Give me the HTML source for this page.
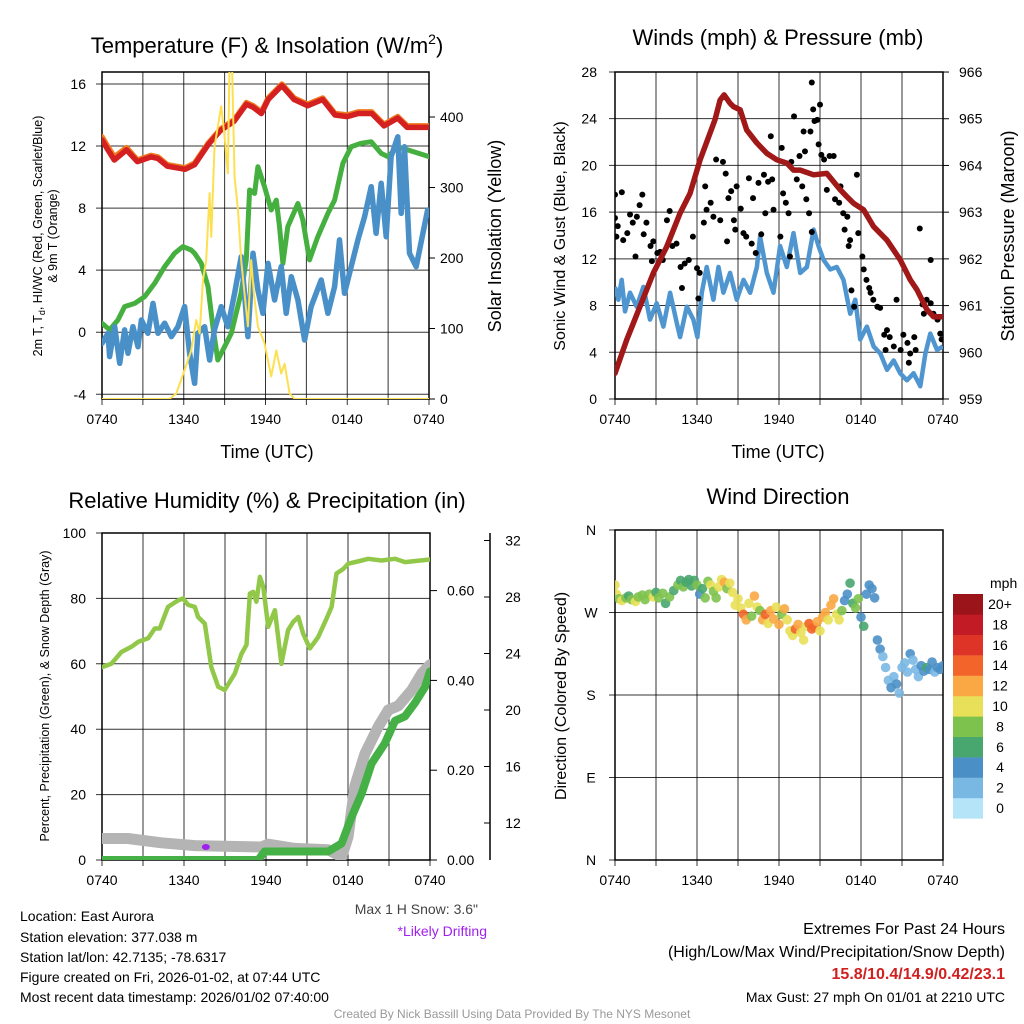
<!DOCTYPE html>
<html><head><meta charset="utf-8">
<style>
html,body{margin:0;padding:0;background:#fff;}
svg{display:block;font-family:"Liberation Sans",sans-serif;}
</style></head>
<body>
<svg id="c" width="1024" height="1024" viewBox="0 0 1024 1024">
<defs>
<clipPath id="cp1"><rect x="102" y="72" width="327" height="327"/></clipPath>
<clipPath id="cp2"><rect x="615" y="72" width="328" height="327"/></clipPath>
<clipPath id="cp3"><rect x="102" y="533" width="328" height="327"/></clipPath>
<clipPath id="cp4"><rect x="615" y="530" width="328" height="330"/></clipPath>
</defs>
<g id="g"></g>
<g font-size="14" fill="#000">
<text x="267" y="53" font-size="22" text-anchor="middle">Temperature (F) &amp; Insolation (W/m<tspan dy="-9" font-size="14">2</tspan><tspan dy="9">)</tspan></text>
<text x="778" y="45" font-size="22" text-anchor="middle">Winds (mph) &amp; Pressure (mb)</text>
<text x="267" y="508" font-size="22" text-anchor="middle">Relative Humidity (%) &amp; Precipitation (in)</text>
<text x="778" y="504" font-size="22" text-anchor="middle">Wind Direction</text>
<text x="267" y="458" font-size="18" text-anchor="middle">Time (UTC)</text>
<text x="778" y="458" font-size="18" text-anchor="middle">Time (UTC)</text>
<text transform="translate(42,236) rotate(-90)" font-size="12.5" text-anchor="middle">2m T, T<tspan dy="3" font-size="9">d</tspan><tspan dy="-3">, HI/WC (Red, Green, Scarlet/Blue)</tspan></text>
<text transform="translate(57,236) rotate(-90)" font-size="12.5" text-anchor="middle">&amp; 9m T (Orange)</text>
<text transform="translate(501,236) rotate(-90)" font-size="18" text-anchor="middle">Solar Insolation (Yellow)</text>
<text transform="translate(565,236) rotate(-90)" font-size="16" text-anchor="middle">Sonic Wind &amp; Gust (Blue, Black)</text>
<text transform="translate(1014,236) rotate(-90)" font-size="18" text-anchor="middle">Station Pressure (Maroon)</text>
<text transform="translate(49,696) rotate(-90)" font-size="12.5" text-anchor="middle">Percent, Precipitation (Green), &amp; Snow Depth (Gray)</text>
<text transform="translate(566,696) rotate(-90)" font-size="16" text-anchor="middle">Direction (Colored By Speed)</text>
<text x="990" y="588" font-size="14">mph</text>
<text x="478" y="914" font-size="14" text-anchor="end" fill="#444">Max 1 H Snow: 3.6"</text>
<text x="487" y="936" font-size="14" text-anchor="end" fill="#a020f0">*Likely Drifting</text>
<g font-size="14">
<text x="20" y="921">Location: East Aurora</text>
<text x="20" y="942">Station elevation: 377.038 m</text>
<text x="20" y="962">Station lat/lon: 42.7135; -78.6317</text>
<text x="20" y="982">Figure created on Fri, 2026-01-02, at 07:44 UTC</text>
<text x="20" y="1002">Most recent data timestamp: 2026/01/02 07:40:00</text>
</g>
<g text-anchor="end">
<text x="1005" y="934" font-size="16">Extremes For Past 24 Hours</text>
<text x="1005" y="957" font-size="16">(High/Low/Max Wind/Precipitation/Snow Depth)</text>
<text x="1005" y="979" font-size="16" font-weight="bold" fill="#d02020">15.8/10.4/14.9/0.42/23.1</text>
<text x="1005" y="1002" font-size="14">Max Gust: 27 mph On 01/01 at 2210 UTC</text>
</g>
<text x="512" y="1018" font-size="12" text-anchor="middle" fill="#999">Created By Nick Bassill Using Data Provided By The NYS Mesonet</text>
</g>
</svg>
<script>
// ---- data (hours since 0740 UTC) ----
const xTickHours=[0,6,12,18,24];
const xTickLabels=["0740","1340","1940","0140","0740"];
const tempTicks=[-4,0,4,8,12,16];
const solarTicks=[0,100,200,300,400];
const windTicks=[0,4,8,12,16,20,24,28];
const presTicks=[959,960,961,962,963,964,965,966];
const rhTicks=[0,20,40,60,80,100];
const precipTicks=[0,0.2,0.4,0.6];
const precipLabels=["0.00","0.20","0.40","0.60"];
const snowTicks=[12,16,20,24,28,32];
const dirTicks=[0,90,180,270,360];
const dirLabels=["N","E","S","W","N"];
const spdLabels=["0","2","4","6","8","10","12","14","16","18","20+"];
const spdColors=["#b5e3f8","#7ab8e4","#4a90c6","#48a66f","#7ec24e","#e8e058","#f9a843","#f26429","#de3427","#c21b26","#9b141a"];

const tH=[0,0.4,0.9,1.8,2.6,3.6,4.1,4.8,6.1,6.8,7.8,8.7,9.7,10.6,11.1,11.7,12.2,13.2,14.1,15.1,16.2,17.1,18.0,18.8,19.8,20.7,21.7,22.4,24];
const tV=[12.4,11.8,11.1,11.75,11.0,11.3,11.2,10.7,10.5,10.8,12.1,13.0,13.6,14.7,14.5,14.1,15.0,15.9,15.0,14.6,15.0,14.0,13.9,14.1,14.1,13.3,13.8,13.2,13.2];
const t9H=[0,0.4,0.9,1.8,2.6,3.6,4.1,4.8,6.1,6.8,7.8,8.7,9.7,10.6,11.1,11.7,12.2,13.2,14.1,15.1,16.2,17.1,18.0,18.8,19.8,20.7,21.7,22.4,24];
const t9V=[12.6,12.0,11.3,11.9,11.1,11.4,11.3,10.8,10.6,10.9,12.2,13.1,13.7,14.8,14.6,14.2,15.1,16.0,15.1,14.7,15.1,14.1,14.0,14.2,14.2,13.4,13.9,13.3,13.3];
const tdH=[0,0.56,1.17,1.66,2.4,3.13,3.86,4.6,5.33,5.94,6.55,6.8,7.29,7.78,8.14,8.5,9.0,9.49,10.2,10.59,10.83,11.2,11.44,11.93,12.42,12.79,13.03,13.28,13.64,14.38,14.74,15.23,15.84,16.58,17.07,17.68,18.29,19.02,19.76,20.49,20.98,21.71,22.44,24];
const tdV=[0.58,0.15,0.79,1.65,1.86,2.29,3.15,4.23,5.09,5.52,5.3,5.09,4.44,2.94,0.36,-1.79,-0.93,-0.07,2.51,4.66,9.17,8.95,10.67,9.38,7.88,8.52,6.81,4.44,6.81,8.3,7.24,4.66,6.16,7.66,8.52,10.89,11.96,12.18,12.28,11.53,11.32,11.96,11.75,11.32];
const wcH=[0,0.44,0.56,0.93,1.3,1.66,1.91,2.27,2.64,2.89,3.37,3.74,4.11,4.6,5.09,5.57,6.06,6.43,6.8,7.04,7.53,7.9,8.26,8.75,9.24,9.73,10.22,10.46,10.71,11.08,11.44,11.81,12.18,12.67,13.15,13.52,13.89,14.38,14.87,15.35,16.09,16.58,17.07,17.43,17.8,18.29,18.78,19.27,19.76,20.12,20.49,20.86,21.22,21.71,21.96,22.2,22.57,23.06,23.55,23.9];
const wcV=[-0.71,-0.07,-1.57,0.36,-2.0,0.15,-1.36,0.36,-0.93,0.79,-0.07,1.86,-0.07,0.58,-0.28,0.36,1.65,-1.36,-3.29,-0.07,0.36,-1.79,0.15,1.65,0.36,2.51,4.87,2.51,-0.28,5.09,2.72,1.22,4.44,2.08,4.23,1.22,3.58,2.08,-0.5,1.65,3.37,1.22,2.94,5.95,2.51,4.23,5.95,7.45,9.38,6.38,9.6,6.16,11.32,12.6,7.66,11.96,5.09,4.23,6.38,7.88];
const solH=[0,4.96,5.45,6.06,6.55,6.92,7.16,7.41,7.65,7.9,8.02,8.26,8.75,9.0,9.24,9.36,9.54,9.73,9.98,10.22,10.46,10.71,10.95,11.15,11.44,11.93,12.42,12.79,13.15,13.4,13.77,14.13,24];
const solV=[0,0,8,41,69,112,93,169,197,292,230,358,415,372,320,475,475,315,268,197,150,103,197,150,103,79,32,69,36,50,8,0,0];

const presH=[0,0.85,1.83,2.81,3.78,4.76,5.49,6.23,6.71,7.32,7.69,7.98,8.42,8.67,9.16,9.64,10.38,11.11,11.84,12.57,13.06,13.55,14.53,15.5,16.48,16.97,17.46,18.19,18.92,19.9,20.87,21.61,22.09,22.83,23.32,24];
const presV=[959.55,960.26,960.98,961.7,962.26,962.98,963.4,964.12,964.5,964.98,965.4,965.51,965.33,965.26,965.19,964.76,964.48,964.26,964.12,964.05,963.9,963.9,963.8,963.83,963.48,963.33,963.19,963.05,962.69,962.4,961.98,961.55,961.34,960.91,960.76,960.76];
const sonH=[0,0.24,0.49,0.73,1.1,1.59,2.08,2.56,3.05,3.54,4.03,4.52,4.76,5.25,5.74,6.03,6.35,6.71,7.2,7.57,7.93,8.42,8.91,9.4,9.89,10.38,10.62,11.11,11.6,12.08,12.57,13.06,13.55,14.04,14.53,14.89,15.26,15.75,16.23,16.72,17.21,17.58,17.94,18.43,18.92,19.41,19.9,20.39,20.87,21.36,21.85,22.34,22.71,23.07,23.56,24];
const sonV=[9.6,8.5,10.2,7.5,9.1,7.9,9.6,6.8,8.2,6.2,9.1,6.5,5.3,7.9,6.8,5.3,9.1,11.3,8.5,11.3,9.1,10.8,8.5,10.2,9.1,11.3,13.9,10.8,9.1,13.1,11.3,14.2,10.8,11.3,14.5,13.1,11.9,11.1,11.3,10.2,7.3,8.5,5.1,6.2,4.5,3.9,2.5,3.3,2.2,1.6,2.2,1.1,3.9,5.6,4.2,4.5];
const gustH=[0.0,0.5,0.0,0.1,0.2,0.6,0.9,1.1,1.3,1.5,1.6,1.8,2.0,2.1,2.3,2.6,2.7,2.8,3.1,3.3,3.5,3.8,4.0,4.2,4.5,4.8,4.9,5.1,5.4,5.7,6.0,6.1,6.2,6.5,6.6,6.7,7.0,7.2,7.4,7.7,7.9,8.1,8.2,8.3,8.5,8.7,8.8,8.9,9.2,9.4,9.6,9.8,10.0,10.1,10.3,10.5,10.7,10.9,11.0,11.2,11.4,11.5,11.6,12.1,12.2,12.3,12.5,12.7,12.8,12.9,13.1,13.3,13.5,13.7,13.8,13.9,14.0,14.2,14.3,14.4,14.5,14.6,14.8,14.9,15.0,14.4,15.1,15.3,15.5,15.7,16.0,16.1,16.4,16.5,16.7,16.8,17.0,17.1,17.2,17.3,17.5,17.7,17.8,18.1,18.2,18.4,18.6,18.7,18.9,19.2,19.4,19.7,19.8,19.9,20.1,20.4,20.6,20.9,21.1,21.4,21.5,21.6,21.9,22.0,22.3,22.5,22.6,22.8,23.1,23.1,23.3,23.6,23.8,23.9];
const gustV=[17.5,17.7,15.5,13.9,14.8,13.6,14.2,15.8,15.1,12.2,15.6,16.6,17.5,14.1,15.1,13.1,11.8,13.5,12.5,12.6,11.9,15.3,16.1,13.1,13.3,11.3,9.5,11.6,11.9,13.9,11.2,8.6,10.8,15.1,18.2,16.2,16.8,15.6,20.5,15.3,20.3,19.3,13.5,17.2,17.8,15.3,14.5,18.2,16.3,14.2,13.9,18.9,13.3,17.2,12.5,18.5,14.1,19.2,15.9,18.6,22.5,18.8,16.2,13.9,21.5,17.6,16.8,15.9,12.2,20.3,24.2,18.8,20.8,18.2,22.9,21.2,17.1,15.9,22.9,14.3,24.8,23.8,23.9,21.8,25.2,27.1,20.9,20.5,17.9,20.8,20.8,17.1,16.8,18.2,15.9,14.5,15.6,13.1,13.6,9.3,7.9,19.2,14.2,12.2,11.1,10.2,9.5,9.1,8.5,7.9,7.8,5.5,4.2,5.9,5.3,4.5,8.5,4.2,5.5,4.8,3.1,3.9,5.3,4.2,14.6,8.1,7.3,8.5,11.9,8.2,7.3,6.8,5.6,5.1];

const rhH=[0,0.68,1.42,2.15,2.64,3.37,3.86,4.22,4.83,5.57,5.93,6.3,6.79,7.03,7.52,8.0,8.5,8.98,9.72,10.2,10.57,10.82,11.06,11.3,11.55,11.8,12.16,12.65,13.13,13.62,13.99,14.36,14.72,15.21,15.82,16.43,16.8,17.16,17.65,18.02,19.0,19.48,20.46,21.44,22.17,24];
const rhV=[59,60,63.6,65.2,66.7,67.8,70.8,70.8,77.4,79.4,80,78,77.4,74.3,72.3,59,53,52,57,63,65.8,81.5,82,79,86.6,83.5,71.3,76.4,60,70.3,72.8,74.3,69.2,64.7,68.2,73.8,77.4,87.6,89,90.6,91.6,92.1,91.6,92.1,91.1,91.9];
const pcpH=[0,11.43,11.9,16.55,17.53,18.26,19.0,19.73,20.7,21.44,22.17,22.9,23.63,24];
const pcpV=[0,0,0.019,0.019,0.037,0.096,0.148,0.215,0.26,0.31,0.32,0.35,0.385,0.42];
const snowH=[0,1.9,4.35,6.8,11.67,12.16,14.1,16.55,17.53,18.0,18.5,19.24,20.2,20.95,21.68,22.66,23.4,24];
const snowV=[10.9,10.9,10.6,10.4,10.3,10.5,10.2,10.1,9.6,11.0,14.6,16.9,18.8,20.0,20.3,21.4,22.6,23.2];
const driftH=[7.6];
const driftV=[10.3];

const dirH=[0.0,0.1,0.3,0.5,0.8,1.0,1.2,1.5,1.7,2.0,2.2,2.5,2.8,3.0,3.2,3.5,3.7,4.0,4.3,4.6,4.8,5.0,5.2,5.4,5.6,5.8,6.0,6.2,6.4,6.6,6.8,7.0,7.2,7.4,7.6,7.8,8.0,8.2,8.4,8.6,8.8,9.0,9.2,9.4,9.6,9.8,10.0,10.2,10.4,10.6,10.8,11.0,11.2,11.4,11.6,11.8,12.0,12.2,12.4,12.6,12.8,13.0,13.2,13.4,13.6,13.8,14.0,14.2,14.4,14.6,14.8,15.0,15.2,15.4,15.6,15.8,16.0,16.2,16.4,16.6,16.8,17.0,17.2,17.4,17.6,17.8,18.0,18.2,18.4,18.6,18.8,19.0,19.2,19.4,19.6,19.8,20.0,20.2,20.4,20.6,20.8,21.0,21.2,21.4,21.6,21.8,22.0,22.2,22.4,22.6,22.8,23.0,23.2,23.4,23.6,23.8,24.0];
const dirV=[300,290,285,283,286,288,284,282,287,289,284,290,287,292,286,291,280,287,294,300,305,298,303,306,299,305,300,290,296,286,304,300,293,286,298,306,303,296,302,292,278,285,275,268,262,280,266,288,276,272,262,268,258,272,263,276,257,268,274,262,250,245,252,257,248,240,255,258,252,254,260,250,265,270,262,278,285,268,262,272,283,290,302,280,275,285,265,255,290,300,296,286,240,230,222,210,196,188,200,192,182,210,215,205,225,218,208,200,212,206,210,208,216,205,210,208,212];
const dirSpd=[10,10,8,10,8,6,8,10,8,8,8,8,10,6,8,8,6,8,6,8,6,8,6,6,6,6,8,4,6,8,8,10,8,8,10,10,12,8,10,10,10,10,10,14,12,10,8,12,10,8,12,14,10,12,12,10,12,8,12,10,10,10,14,12,10,10,10,14,14,14,12,10,12,12,10,12,12,10,10,8,4,4,6,6,8,8,4,6,4,4,4,4,4,4,2,2,2,4,2,4,2,2,2,2,4,2,2,2,4,4,6,4,4,2,4,4,4];

// ---- helpers ----
const NS="http://www.w3.org/2000/svg";
const G=document.getElementById('g');
function mk(tag,attrs,name,parent){
  const el=document.createElementNS(NS,tag);
  for(const k in attrs) el.setAttribute(k,attrs[k]);
  
  
  (parent||G).appendChild(el);
  return el;
}
function txt(x,y,s,anchor,name,size){
  const t=mk('text',{x:x,y:y,'text-anchor':anchor||'middle','font-size':size||14},name);
  t.textContent=s;return t;
}
function path(hs,vs,fx,fy){
  let d='';
  for(let i=0;i<hs.length;i++){d+=(i?'L':'M')+fx(hs[i]).toFixed(1)+','+fy(vs[i]).toFixed(1);}
  return d;
}
function panelFrame(x0,x1,y0,y1,fx,name,gridYs){
  for(let h=0;h<=24;h+=3){
    const x=fx(h);
    mk('line',{x1:x,x2:x,y1:y0,y2:y1+6,stroke:'#000','stroke-width':1,'stroke-opacity':0.8},name+'-vgrid');
  }
  gridYs.forEach(y=>{
    mk('line',{x1:x0-6,x2:x1,y1:y,y2:y,stroke:'#000','stroke-width':1,'stroke-opacity':0.8},name+'-hgrid');
  });
  mk('rect',{x:x0,y:y0,width:x1-x0,height:y1-y0,fill:'none',stroke:'#000','stroke-width':1.5},name+'-frame');
  xTickHours.forEach((h,i)=>{txt(fx(h),y1+25,xTickLabels[i],'middle',name+'-x-tick-label');});
}

// ---- panel 1: temperature ----
const p1x=h=>102+h*(327/24);
const p1y=v=>394.3-(v+4)*15.515;
const p1s=v=>399-v*0.705;
panelFrame(102,429,72,399,p1x,'temp',tempTicks.map(p1y));
tempTicks.forEach(v=>txt(86,p1y(v)+5,String(v),'end','temp-y-tick-label'));
solarTicks.forEach(v=>{
  mk('line',{x1:429,x2:435,y1:p1s(v),y2:p1s(v),stroke:'#000'},'solar-tick');
  txt(440,p1s(v)+5,String(v),'start','solar-y-tick-label');
});
const c1=mk('g',{'clip-path':'url(#cp1)'},'temp-series');
mk('path',{d:path(t9H,t9V,p1x,p1y),fill:'none',stroke:'#f07a20','stroke-width':5.5,'stroke-linejoin':'round','stroke-linecap':'round'},'line-9m-temp',c1);
mk('path',{d:path(tH,tV,p1x,p1y),fill:'none',stroke:'#d42020','stroke-width':5.5,'stroke-linejoin':'round','stroke-linecap':'round'},'line-2m-temp',c1);
mk('path',{d:path(tdH,tdV,p1x,p1y),fill:'none',stroke:'#45b040','stroke-width':5,'stroke-linejoin':'round','stroke-linecap':'round'},'line-dewpoint',c1);
mk('path',{d:path(wcH,wcV,p1x,p1y),fill:'none',stroke:'#4a90c8','stroke-width':5.5,'stroke-linejoin':'round','stroke-linecap':'round'},'line-wind-chill',c1);
mk('path',{d:path(solH,solV,p1x,p1s),fill:'none',stroke:'#fde050','stroke-width':2,'stroke-linejoin':'round'},'line-insolation',c1);

// ---- panel 2: winds ----
const p2x=h=>615+h*(328/24);
const p2y=v=>399-v*11.68;
const p2p=p=>399-(p-959)*46.71;
panelFrame(615,943,72,399,p2x,'winds',windTicks.map(p2y));
windTicks.forEach(v=>txt(597,p2y(v)+5,String(v),'end','wind-y-tick-label'));
presTicks.forEach(v=>{
  mk('line',{x1:943,x2:949,y1:p2p(v),y2:p2p(v),stroke:'#000'},'pressure-tick');
  txt(959,p2p(v)+5,String(v),'start','pressure-y-tick-label');
});
const c2=mk('g',{'clip-path':'url(#cp2)'},'wind-series');
mk('path',{d:path(sonH,sonV,p2x,p2y),fill:'none',stroke:'#4f96d0','stroke-width':4.5,'stroke-linejoin':'round'},'line-sonic-wind',c2);
for(let i=0;i<gustH.length;i++){
  mk('circle',{cx:p2x(gustH[i]),cy:p2y(gustV[i]),r:3,fill:'#000'},'gust-point',c2);
}
mk('path',{d:path(presH,presV,p2x,p2p),fill:'none',stroke:'#a01818','stroke-width':5.5,'stroke-linejoin':'round','stroke-linecap':'round'},'line-pressure',c2);

// ---- panel 3: RH & precip ----
const p3x=h=>102+h*(328/24);
const p3y=v=>860-v*3.27;
const p3p=v=>860-v*449;
const p3s=v=>823-(v-12)*14.125;
panelFrame(102,430,533,860,p3x,'rh',rhTicks.map(p3y));
rhTicks.forEach(v=>txt(86,p3y(v)+5,String(v),'end','rh-y-tick-label'));
precipTicks.forEach((v,i)=>{
  mk('line',{x1:430,x2:437,y1:p3p(v),y2:p3p(v),stroke:'#000'},'precip-tick');
  txt(447,p3p(v)+5,precipLabels[i],'start','precip-y-tick-label');
});
mk('line',{x1:490,x2:490,y1:533,y2:860,stroke:'#000','stroke-width':1.5},'snow-axis-line');
snowTicks.forEach(v=>{
  mk('line',{x1:484,x2:490,y1:p3s(v),y2:p3s(v),stroke:'#000'},'snow-tick');
  txt(513,p3s(v)+5,String(v),'middle','snow-y-tick-label');
});
const c3=mk('g',{'clip-path':'url(#cp3)'},'rh-series');
mk('path',{d:path(snowH,snowV,p3x,p3s),fill:'none',stroke:'#b4b4b4','stroke-width':11,'stroke-linejoin':'round','stroke-linecap':'round'},'line-snow-depth',c3);
mk('path',{d:path(pcpH,pcpV,p3x,p3p),fill:'none',stroke:'#45b045','stroke-width':8,'stroke-linejoin':'round','stroke-linecap':'round'},'line-precip',c3);
mk('path',{d:path(rhH,rhV,p3x,p3y),fill:'none',stroke:'#92c84a','stroke-width':4.5,'stroke-linejoin':'round','stroke-linecap':'round'},'line-rh',c3);
for(let i=0;i<driftH.length;i++){
  mk('ellipse',{cx:p3x(driftH[i]),cy:p3s(driftV[i]),rx:4,ry:3,fill:'#a020f0'},'drift-marker',c3);
}

// ---- panel 4: wind direction ----
const p4x=h=>615+h*(328/24);
const p4y=d=>860-d*(330/360);
panelFrame(615,943,530,860,p4x,'dir',dirTicks.map(p4y));
dirTicks.forEach((v,i)=>txt(591,p4y(v)+5,dirLabels[i],'middle','dir-y-tick-label'));
const c4=mk('g',{'clip-path':'url(#cp4)'},'dir-series');
for(let i=0;i<dirH.length;i++){
  const idx=Math.min(10,Math.floor(dirSpd[i]/2));
  mk('circle',{cx:p4x(dirH[i]),cy:p4y(dirV[i]),r:4.8,fill:spdColors[idx],'fill-opacity':0.9},'dir-point',c4);
}
// colorbar
for(let i=0;i<spdColors.length;i++){
  const y=594+(10-i)*20.4;
  mk('rect',{x:953,y:y,width:30,height:20.6,fill:spdColors[i]},'colorbar-box');
  txt(1000,y+15,spdLabels[i],'middle','colorbar-label');
}
</script>
</body></html>
